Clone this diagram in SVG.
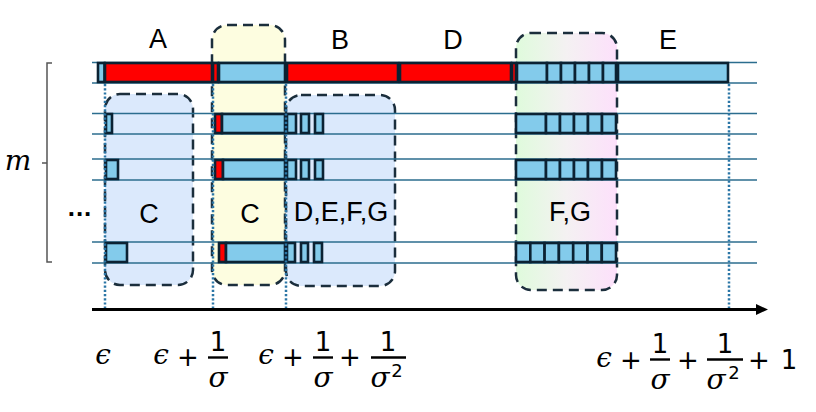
<svg xmlns="http://www.w3.org/2000/svg" width="816" height="412" viewBox="0 0 816 412">
<style>
.bx{stroke:#1b2e3c;stroke-width:2.5;stroke-dasharray:10 6;}
.hl{stroke:#2b6d8e;stroke-width:1.5;fill:none;}
.dot{stroke:#2b76a6;stroke-width:2.5;stroke-dasharray:2.2 2;fill:none;}
.b{fill:#83cbeb;stroke:#0b2233;stroke-width:2.6;}
.r{fill:#ff0000;stroke:#0b2233;stroke-width:2.6;}
.lbl{font-family:"Liberation Sans",Arial,sans-serif;font-size:27px;fill:#000;text-anchor:middle;}
.mi{font-family:"DejaVu Serif","Liberation Serif",serif;font-style:italic;font-size:28px;fill:#000;text-anchor:middle;}
.mn{font-family:"DejaVu Sans","Liberation Sans",sans-serif;font-size:26px;fill:#000;text-anchor:middle;}
.sup{font-family:"DejaVu Sans","Liberation Sans",sans-serif;font-size:18px;fill:#000;text-anchor:middle;}
.fb{stroke:#000;stroke-width:2.4;}
</style>
<defs>
<linearGradient id="fgGrad" x1="0" y1="0" x2="1" y2="0">
<stop offset="0" stop-color="#dffbdc"/>
<stop offset="0.5" stop-color="#f4f1f2"/>
<stop offset="1" stop-color="#fde0fb"/>
</linearGradient>
</defs>

<g id="regions">
<rect id="boxC1" class="bx" x="105" y="94" width="88" height="191" rx="15" fill="#dbe9fc"/>
<rect id="boxC2" class="bx" x="212" y="25" width="73" height="260" rx="15" fill="#fdfde0"/>
<rect id="boxDEFG" class="bx" x="286" y="95" width="109" height="191" rx="15" fill="#dbe9fc"/>
<rect id="boxFG" class="bx" x="516" y="33" width="101" height="257" rx="15" fill="url(#fgGrad)"/>
</g>

<g id="gridlines">
<line class="hl" x1="92" y1="62.5" x2="757" y2="62.5"/>
<line class="hl" x1="92" y1="83" x2="757" y2="83"/>
<line class="hl" x1="92" y1="113.5" x2="757" y2="113.5"/>
<line class="hl" x1="92" y1="134" x2="757" y2="134"/>
<line class="hl" x1="92" y1="159" x2="757" y2="159"/>
<line class="hl" x1="92" y1="180" x2="757" y2="180"/>
<line class="hl" x1="92" y1="242" x2="757" y2="242"/>
<line class="hl" x1="92" y1="263" x2="757" y2="263"/>
</g>

<g id="row1">
<rect class="b" x="98" y="63" width="6.5" height="19"/>
<rect class="r" x="105" y="63" width="107" height="19"/>
<rect class="r" x="213" y="63" width="5" height="19"/>
<rect class="b" x="219" y="63" width="66" height="19"/>
<rect class="r" x="287" y="63" width="111" height="19"/>
<rect class="r" x="400" y="63" width="111" height="19"/>
<rect class="r" x="512" y="63" width="4" height="19"/>
<rect class="b" x="517" y="63" width="30" height="19"/>
<rect class="b" x="547" y="63" width="14" height="19"/>
<rect class="b" x="561" y="63" width="14" height="19"/>
<rect class="b" x="575" y="63" width="14" height="19"/>
<rect class="b" x="589" y="63" width="14" height="19"/>
<rect class="b" x="603" y="63" width="13" height="19"/>
<rect class="b" x="618" y="63" width="110" height="19"/>
</g>

<g id="row2">
<rect class="b" x="106" y="114" width="6" height="19"/>
<rect class="r" x="215" y="114" width="7" height="19"/>
<rect class="b" x="222" y="114" width="63" height="19"/>
<rect class="b" x="287" y="114" width="9" height="19"/>
<rect class="b" x="301" y="114" width="8" height="19"/>
<rect class="b" x="315" y="114" width="8" height="19"/>
<rect class="b" x="516" y="114" width="30" height="19"/>
<rect class="b" x="546" y="114" width="14" height="19"/>
<rect class="b" x="560" y="114" width="14" height="19"/>
<rect class="b" x="574" y="114" width="14" height="19"/>
<rect class="b" x="588" y="114" width="14" height="19"/>
<rect class="b" x="602" y="114" width="14" height="19"/>
</g>

<g id="row3">
<rect class="b" x="106" y="160" width="12" height="19"/>
<rect class="r" x="215" y="160" width="8" height="19"/>
<rect class="b" x="223" y="160" width="62" height="19"/>
<rect class="b" x="287" y="160" width="9" height="19"/>
<rect class="b" x="301" y="160" width="8" height="19"/>
<rect class="b" x="315" y="160" width="8" height="19"/>
<rect class="b" x="516" y="160" width="30" height="19"/>
<rect class="b" x="546" y="160" width="14" height="19"/>
<rect class="b" x="560" y="160" width="14" height="19"/>
<rect class="b" x="574" y="160" width="14" height="19"/>
<rect class="b" x="588" y="160" width="14" height="19"/>
<rect class="b" x="602" y="160" width="14" height="19"/>
</g>

<g id="row4">
<rect class="b" x="106" y="243" width="21" height="19"/>
<rect class="r" x="219" y="243" width="7" height="19"/>
<rect class="b" x="226" y="243" width="59" height="19"/>
<rect class="b" x="287" y="243" width="8" height="19"/>
<rect class="b" x="301" y="243" width="7" height="19"/>
<rect class="b" x="314" y="243" width="8" height="19"/>
<rect class="b" x="516" y="243" width="14.3" height="19"/>
<rect class="b" x="530.3" y="243" width="14.3" height="19"/>
<rect class="b" x="544.6" y="243" width="14.3" height="19"/>
<rect class="b" x="558.9" y="243" width="14.3" height="19"/>
<rect class="b" x="573.2" y="243" width="14.3" height="19"/>
<rect class="b" x="587.5" y="243" width="14.3" height="19"/>
<rect class="b" x="601.8" y="243" width="14.2" height="19"/>
</g>

<g id="connectors">
<line class="dot" x1="105" y1="84" x2="105" y2="308"/>
<line class="dot" x1="213" y1="84" x2="213" y2="308"/>
<line class="dot" x1="286" y1="84" x2="286" y2="308"/>
<line class="dot" x1="729" y1="84" x2="729" y2="308"/>
<line x1="92" y1="309.5" x2="758" y2="309.5" stroke="#000" stroke-width="3"/>
<polygon points="756,304 768,309.5 756,315" fill="#000"/>
<path d="M52,63 H47 V262 H52 M42,163 H47" fill="none" stroke="#555" stroke-width="1.5"/>
</g>

<g id="labels">
<text class="lbl" x="158" y="48">A</text>
<text class="lbl" x="340" y="49">B</text>
<text class="lbl" x="453" y="49">D</text>
<text class="lbl" x="668" y="49">E</text>
<text class="lbl" x="149" y="223">C</text>
<text class="lbl" x="250" y="223">C</text>
<text class="lbl" x="341" y="221">D,E,F,G</text>
<text class="lbl" x="570" y="221">F,G</text>
<text x="18" y="170" font-family="DejaVu Serif, Liberation Serif, serif" font-style="italic" font-size="28" text-anchor="middle">m</text>
<text x="80" y="216" font-family="Liberation Sans, Arial, sans-serif" font-weight="bold" font-size="26" letter-spacing="1" text-anchor="middle">...</text>
</g>

<g id="axisLabels">
<text class="mi" x="103" y="364">ϵ</text>

<text class="mi" x="161" y="364">ϵ</text>
<text class="mn" x="188" y="366">+</text>
<line class="fb" x1="208" y1="357.5" x2="228" y2="357.5"/>
<text class="mn" x="218" y="351">1</text>
<text class="mi" x="218" y="387">σ</text>

<text class="mi" x="266" y="364">ϵ</text>
<text class="mn" x="293" y="366">+</text>
<line class="fb" x1="313" y1="357.5" x2="333" y2="357.5"/>
<text class="mn" x="323" y="351">1</text>
<text class="mi" x="323" y="387">σ</text>
<text class="mn" x="350" y="366">+</text>
<line class="fb" x1="371" y1="357.5" x2="406" y2="357.5"/>
<text class="mn" x="388" y="351">1</text>
<text class="mi" x="380" y="387">σ</text>
<text class="sup" x="397" y="377">2</text>

<text class="mi" x="604" y="367">ϵ</text>
<text class="mn" x="631" y="369">+</text>
<line class="fb" x1="650" y1="359.5" x2="670" y2="359.5"/>
<text class="mn" x="660" y="353">1</text>
<text class="mi" x="660" y="389">σ</text>
<text class="mn" x="688" y="369">+</text>
<line class="fb" x1="707" y1="359.5" x2="743" y2="359.5"/>
<text class="mn" x="725" y="353">1</text>
<text class="mi" x="716" y="389">σ</text>
<text class="sup" x="734" y="379">2</text>
<text class="mn" x="759" y="369">+</text>
<text class="mn" x="789" y="369">1</text>
</g>
</svg>
